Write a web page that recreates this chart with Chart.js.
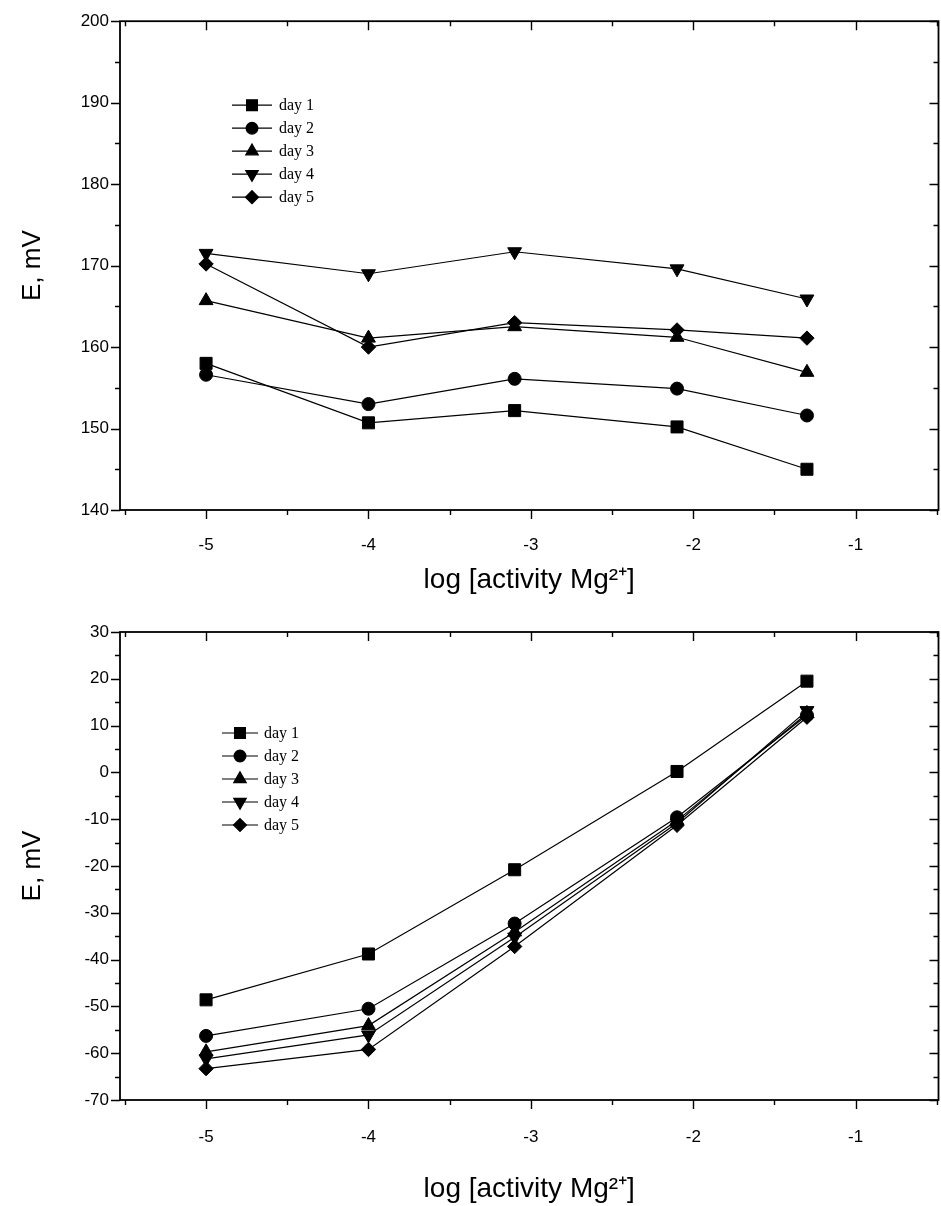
<!DOCTYPE html>
<html><head><meta charset="utf-8">
<script src="https://cdn.jsdelivr.net/npm/chart.js@4.4.1/dist/chart.umd.min.js"></script>
<style>
html,body{margin:0;padding:0;background:#fff;width:941px;height:1206px;overflow:hidden}
.wrap{position:absolute;left:0;width:941px;overflow:hidden}
#w1{top:0;height:600px}
#w2{top:600px;height:606px}
canvas{display:block}
</style></head><body>
<div class="wrap" id="w1"><canvas id="c1" width="948" height="600"></canvas></div>
<div class="wrap" id="w2"><canvas id="c2" width="948" height="606"></canvas></div>
<script>
// ---- data ----
const xValues = [-5, -4, -3.1, -2.1, -1.3];
const seriesLabels = ['day 1', 'day 2', 'day 3', 'day 4', 'day 5'];
const topDay1 = [158.0, 150.7, 152.2, 150.2, 145.0];
const topDay2 = [156.6, 153.0, 156.1, 154.9, 151.6];
const topDay3 = [165.7, 161.1, 162.5, 161.2, 156.9];
const topDay4 = [171.5, 169.0, 171.7, 169.6, 165.9];
const topDay5 = [170.2, 160.0, 163.0, 162.1, 161.1];
const botDay1 = [-48.6, -38.8, -20.8, 0.2, 19.5];
const botDay2 = [-56.3, -50.5, -32.3, -9.6, 12.2];
const botDay3 = [-59.7, -54.1, -34.1, -10.3, 12.6];
const botDay4 = [-61.2, -56.1, -35.2, -10.8, 13.2];
const botDay5 = [-63.3, -59.2, -37.2, -11.3, 11.8];
const xTickValues = [-5, -4, -3, -2, -1];
const xRange = [-5.53, -0.49];
const topYRange = [140, 200];
const botYRange = [-70, 30];
const yMajorStep = 10, yMinorStep = 5, xMinorStep = 0.5;
const yTitle = 'E, mV';
const xTitle = 'log [activity Mg\u00B2\u207A]';

// ---- styles ----
const pointStyles = ['rect', 'circle', 'triangle', 'triangle', 'rectRot'];
const pointRotations = [0, 0, 0, 180, 0];
const pointRadii = [8.5, 6.5, 8, 8, 7.2];

const frameTicks = {
  id: 'frameTicks',
  afterDraw(chart) {
    const {ctx, chartArea: a, scales: {x, y}} = chart;
    ctx.save();
    ctx.strokeStyle = '#000';
    ctx.lineWidth = 1.8;
    ctx.strokeRect(a.left, a.top, a.right - a.left, a.bottom - a.top);
    ctx.lineWidth = 1.4;
    ctx.beginPath();
    const eps = 1e-6;
    for (let v = Math.ceil(x.min / xMinorStep) * xMinorStep; v <= x.max + eps; v += xMinorStep) {
      if (v <= x.min + eps || v >= x.max - eps) continue;
      const px = Math.round(x.getPixelForValue(v)) + 0.5;
      const major = Math.abs(v - Math.round(v)) < eps;
      const len = major ? 9 : 5;
      ctx.moveTo(px, a.bottom); ctx.lineTo(px, a.bottom + len);
      ctx.moveTo(px, a.top); ctx.lineTo(px, a.top + len);
    }
    for (let v = y.min; v <= y.max + eps; v += yMinorStep) {
      const py = Math.round(y.getPixelForValue(v)) + 0.5;
      const major = Math.abs(v / yMajorStep - Math.round(v / yMajorStep)) < eps;
      const len = major ? 9 : 5;
      ctx.moveTo(a.left - len, py); ctx.lineTo(a.left, py);
      ctx.moveTo(a.right - len, py); ctx.lineTo(a.right, py);
    }
    ctx.stroke();
    ctx.restore();
  }
};

const innerLegend = {
  id: 'innerLegend',
  afterDraw(chart, args, opts) {
    const {ctx, chartArea: a} = chart;
    const x0 = a.left + opts.dx, y0 = a.top + opts.dy;
    ctx.save();
    ctx.font = opts.font;
    ctx.textBaseline = 'middle';
    ctx.textAlign = 'left';
    chart.data.datasets.forEach((ds, i) => {
      const yy = y0 + i * opts.rowGap;
      ctx.strokeStyle = '#000'; ctx.fillStyle = '#000'; ctx.lineWidth = 1.2;
      ctx.beginPath(); ctx.moveTo(x0, yy); ctx.lineTo(x0 + opts.lineLen, yy); ctx.stroke();
      Chart.helpers.drawPoint(ctx, {
        pointStyle: ds.pointStyle, rotation: ds.pointRotation || 0,
        radius: ds.pointRadius * 0.9, borderWidth: 1
      }, x0 + opts.lineLen / 2, yy);
      ctx.fillStyle = '#000';
      ctx.fillText(ds.label, x0 + opts.lineLen + opts.textGap, yy + 1);
    });
    ctx.restore();
  }
};

function makeDatasets(arrs) {
  return arrs.map((arr, i) => ({
    label: seriesLabels[i],
    data: arr.map((v, j) => ({x: xValues[j], y: v})),
    borderColor: '#000', backgroundColor: '#000', borderWidth: 1.2,
    pointStyle: pointStyles[i], pointRotation: pointRotations[i],
    pointRadius: pointRadii[i], pointBorderWidth: 1, pointBorderColor: '#000',
    pointBackgroundColor: '#000', showLine: true, fill: false, tension: 0
  }));
}

function makeChart(id, arrs, yRange, geo) {
  return new Chart(document.getElementById(id), {
    type: 'scatter',
    data: {datasets: makeDatasets(arrs)},
    options: {
      responsive: false, animation: false, devicePixelRatio: 1,
      layout: {padding: {top: geo.top, right: 4, bottom: 0, left: 0}},
      plugins: {
        legend: {display: false}, tooltip: {enabled: false},
        innerLegend: geo.legend
      },
      scales: {
        x: {
          type: 'linear', min: xRange[0], max: xRange[1],
          afterBuildTicks: s => { s.ticks = xTickValues.map(v => ({value: v})); },
          afterFit: s => { s.height = geo.xHeight; },
          grid: {display: false, drawTicks: false}, border: {display: false},
          ticks: {color: '#000', padding: geo.xPad, font: {family: 'Liberation Sans', size: 17},
                  callback: v => String(v), maxRotation: 0, autoSkip: false},
          title: {display: true, text: xTitle, color: '#000',
                  font: {family: 'Liberation Sans', size: 28}, padding: {top: 0, bottom: geo.xTitlePad}}
        },
        y: {
          type: 'linear', min: yRange[0], max: yRange[1],
          ticks: {stepSize: yMajorStep, color: '#000', padding: 11,
                  font: {family: 'Liberation Sans', size: 17}, callback: v => String(v)},
          afterFit: s => { s.width = 120; },
          grid: {display: false, drawTicks: false}, border: {display: false},
          title: {display: true, text: yTitle, color: '#000',
                  font: {family: 'Liberation Sans', size: 26}, padding: {top: 17, bottom: 0}}
        }
      }
    },
    plugins: [frameTicks, innerLegend]
  });
}

makeChart('c1', [topDay1, topDay2, topDay3, topDay4, topDay5], topYRange, {
  top: 20, xHeight: 90, xPad: 25, xTitlePad: 3,
  legend: {dx: 112, dy: 84, lineLen: 40, textGap: 7, rowGap: 23, font: '16px "Liberation Serif"'}
});
makeChart('c2', [botDay1, botDay2, botDay3, botDay4, botDay5], botYRange, {
  top: 32, xHeight: 106, xPad: 27, xTitlePad: 0,
  legend: {dx: 102, dy: 101, lineLen: 36, textGap: 6, rowGap: 23, font: '16px "Liberation Serif"'}
});
</script>
</body></html>
